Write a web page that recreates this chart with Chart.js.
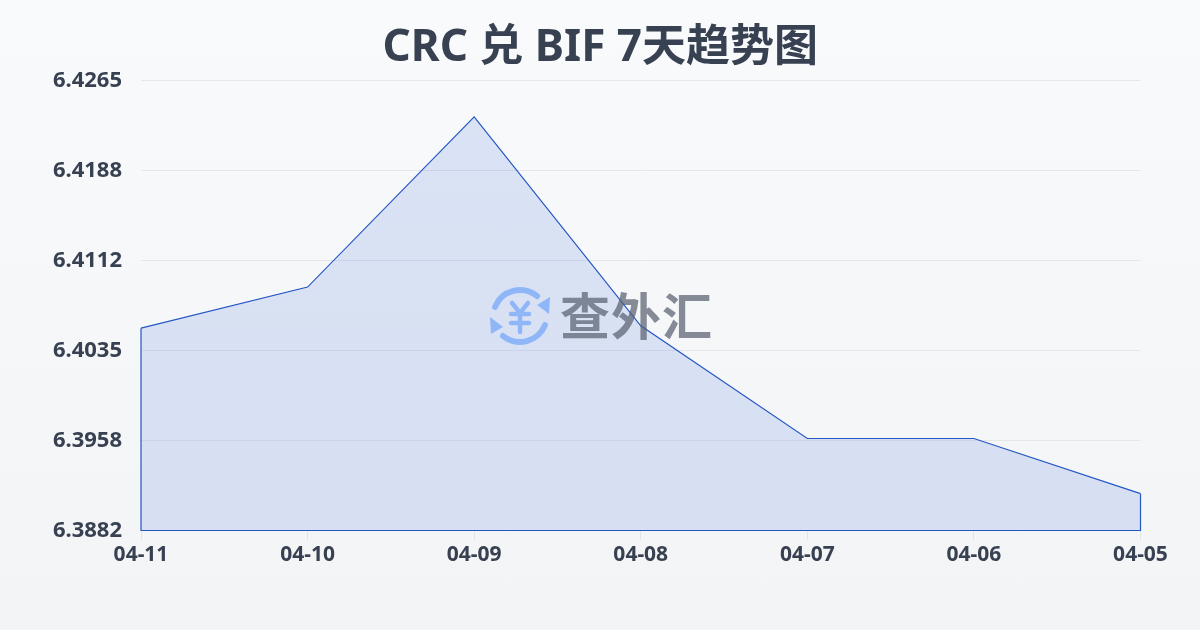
<!DOCTYPE html>
<html lang="zh">
<head>
<meta charset="utf-8">
<title>CRC 兑 BIF 7天趋势图</title>
<script src="https://cdn.jsdelivr.net/npm/chart.js@4/dist/chart.umd.min.js"></script>
<style>
  html, body { margin: 0; padding: 0; }
  body {
    width: 1200px; height: 630px; overflow: hidden; position: relative;
    background: linear-gradient(180deg, #f8fafc 0%, #f3f4f6 100%);
  }
  #wrap { position: absolute; left: 0; top: 0; width: 1200px; height: 630px; }
  #mark { position: absolute; left: 490px; top: 286px; width: 60px; height: 60px; }
  #markText {
    position: absolute; left: 560px; top: 277px;
    font: 700 50px/72px "Noto Sans CJK SC", sans-serif; letter-spacing: 1px;
    color: rgba(85, 92, 108, 0.7);
  }
</style>
</head>
<body>
<div id="wrap"><canvas id="chart" width="1200" height="630"></canvas></div>
<svg id="mark" viewBox="0 0 60 60">
  <g fill="none" stroke="#8fb6f7" stroke-width="6" stroke-linecap="round">
    <path d="M5 21 A27 27 0 0 1 47 10"/>
    <path d="M55 39 A27 27 0 0 1 13 50"/>
  </g>
  <g fill="none" stroke="#8fb6f7" stroke-width="4.5" stroke-linecap="round">
    <path d="M22 17 L30 27 L38 17 M21 28 H39 M21 37 H39 M30 27 V46"/>
  </g>
  <path d="M47 19 L60 11 L59 28 Z" fill="#8fb6f7"/>
  <path d="M0 31 L13 41 L1 48 Z" fill="#8fb6f7"/>
</svg>
<div id="markText">查外汇</div>
<script>
const titleText = 'CRC 兑 BIF 7天趋势图';
const dates = ['04-11', '04-10', '04-09', '04-08', '04-07', '04-06', '04-05'];
const rates = [6.4054, 6.4089, 6.4234, 6.4056, 6.3960, 6.3960, 6.3913];
const yTicks = [6.38816, 6.39583, 6.40350, 6.41116, 6.41883, 6.42650];

const fontFamily = '"Noto Sans", "Noto Sans CJK SC", sans-serif';
const lineColor = '#2456c4';

// the area is outlined on all sides, so close it along the baseline
const closeOutline = {
  id: 'closeOutline',
  afterDatasetsDraw(chart) {
    const { ctx, scales: { x, y } } = chart;
    const x0 = x.getPixelForValue(0);
    const x1 = x.getPixelForValue(rates.length - 1);
    const base = y.getPixelForValue(yTicks[0]);
    ctx.save();
    ctx.strokeStyle = lineColor;
    ctx.lineWidth = 1.2;
    ctx.beginPath();
    ctx.moveTo(x0, y.getPixelForValue(rates[0]));
    ctx.lineTo(x0, base);
    ctx.lineTo(x1, base);
    ctx.lineTo(x1, y.getPixelForValue(rates[rates.length - 1]));
    ctx.stroke();
    ctx.restore();
  }
};

new Chart(document.getElementById('chart'), {
  type: 'line',
  plugins: [closeOutline],
  data: {
    labels: dates,
    datasets: [{
      data: rates,
      borderColor: lineColor,
      borderWidth: 1.2,
      backgroundColor: 'rgba(45, 90, 210, 0.14)',
      fill: 'start',
      tension: 0,
      pointRadius: 0
    }]
  },
  options: {
    responsive: false,
    animation: false,
    layout: { padding: { left: 52.5, right: 52, top: 0, bottom: 66.5 } },
    plugins: {
      legend: { display: false },
      tooltip: { enabled: false },
      title: {
        display: true,
        text: titleText,
        color: '#374151',
        font: { family: fontFamily, size: 44, weight: '700' },
        padding: { top: 22, bottom: 5.7 }
      }
    },
    scales: {
      x: {
        offset: false,
        afterFit(axis) { axis.height = 33; },
        grid: { drawOnChartArea: false, drawTicks: true, tickLength: 10, color: '#e2e5ea' },
        border: { display: false },
        ticks: {
          color: '#374151',
          font: { family: fontFamily, size: 21, weight: '700' },
          maxRotation: 0, autoSkip: false, padding: 2
        }
      },
      y: {
        min: yTicks[0],
        max: yTicks[yTicks.length - 1],
        afterBuildTicks(axis) { axis.ticks = yTicks.map(value => ({ value })); },
        afterFit(axis) { axis.width = 88.5; },
        grid: { drawTicks: false, color: '#e5e7eb' },
        border: { display: false },
        ticks: {
          color: '#374151',
          font: { family: fontFamily, size: 22, weight: '700' },
          padding: 19,
          callback: value => value.toFixed(4)
        }
      },
      // empty axis on the right keeps the title centred on the page
      spacer: {
        position: 'right',
        afterFit(axis) { axis.width = 7.5; },
        grid: { display: false },
        border: { display: false },
        ticks: { display: false }
      }
    }
  }
});
</script>
</body>
</html>
